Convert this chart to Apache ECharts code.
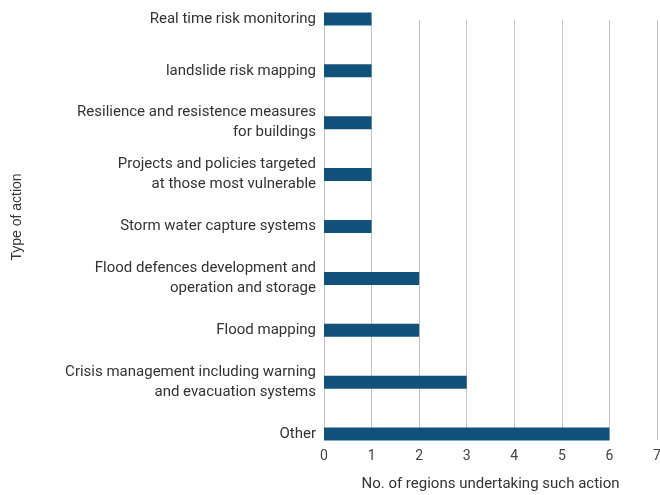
<!DOCTYPE html>
<html><head><meta charset="utf-8">
<script src="https://cdn.jsdelivr.net/npm/echarts@6/dist/echarts.min.js"></script>
<style>html,body{margin:0;padding:0;background:#fff}#c{width:660px;height:495px}</style>
</head><body><div id="c"></div>
<script>
const categories = [
  "Real time risk monitoring",
  "landslide risk mapping",
  "Resilience and resistence measures\nfor buildings",
  "Projects and policies targeted\nat those most vulnerable",
  "Storm water capture systems",
  "Flood defences development and\noperation and storage",
  "Flood mapping",
  "Crisis management including warning\nand evacuation systems",
  "Other"
];
const values = [1, 1, 1, 1, 1, 2, 2, 3, 6];
const xTicks = [0, 1, 2, 3, 4, 5, 6, 7];

const font = "Roboto";
const chart = echarts.init(document.getElementById('c'), null, {renderer: 'canvas'});
chart.setOption({
  animation: false,
  grid: [
    {left: 324, right: 3, top: -7, bottom: 35, outerBoundsMode: 'none', containLabel: false},
    {left: 324, right: 3, top: 20, bottom: 55, outerBoundsMode: 'none', containLabel: false}
  ],
  xAxis: [
    {gridIndex: 0, type: 'value', min: 0, max: xTicks[xTicks.length-1], interval: 1,
     show: false},
    {gridIndex: 1, type: 'value', min: 0, max: xTicks[xTicks.length-1], interval: 1,
     axisLine: {show: false}, axisTick: {show: false},
     splitLine: {show: true, lineStyle: {color: '#c4c4c4', width: 1}},
     axisLabel: {color: '#444', fontFamily: font, fontSize: 14, margin: 9},
     name: 'No. of regions undertaking such action', nameLocation: 'middle', nameGap: 37,
     nameTextStyle: {color: '#333', fontFamily: font, fontSize: 15}}
  ],
  yAxis: [
    {gridIndex: 0, type: 'category', data: categories, inverse: true,
     axisLine: {show: false}, axisTick: {show: false}, splitLine: {show: false},
     axisLabel: {color: '#333', fontFamily: font, fontSize: 15, margin: 8, lineHeight: 20, align: 'right'}},
    {gridIndex: 1, type: 'category', data: categories, inverse: true, show: false}
  ],
  graphic: [
    {type: 'text', x: 17, y: 217, rotation: Math.PI / 2,
     style: {text: 'Type of action', fill: '#333', font: '14px "Liberation Sans"',
             align: 'center', verticalAlign: 'middle'}}
  ],
  series: [
    {type: 'bar', xAxisIndex: 0, yAxisIndex: 0, data: values, barWidth: 13,
     itemStyle: {color: '#12527a'}}
  ]
});
</script>
</body></html>
